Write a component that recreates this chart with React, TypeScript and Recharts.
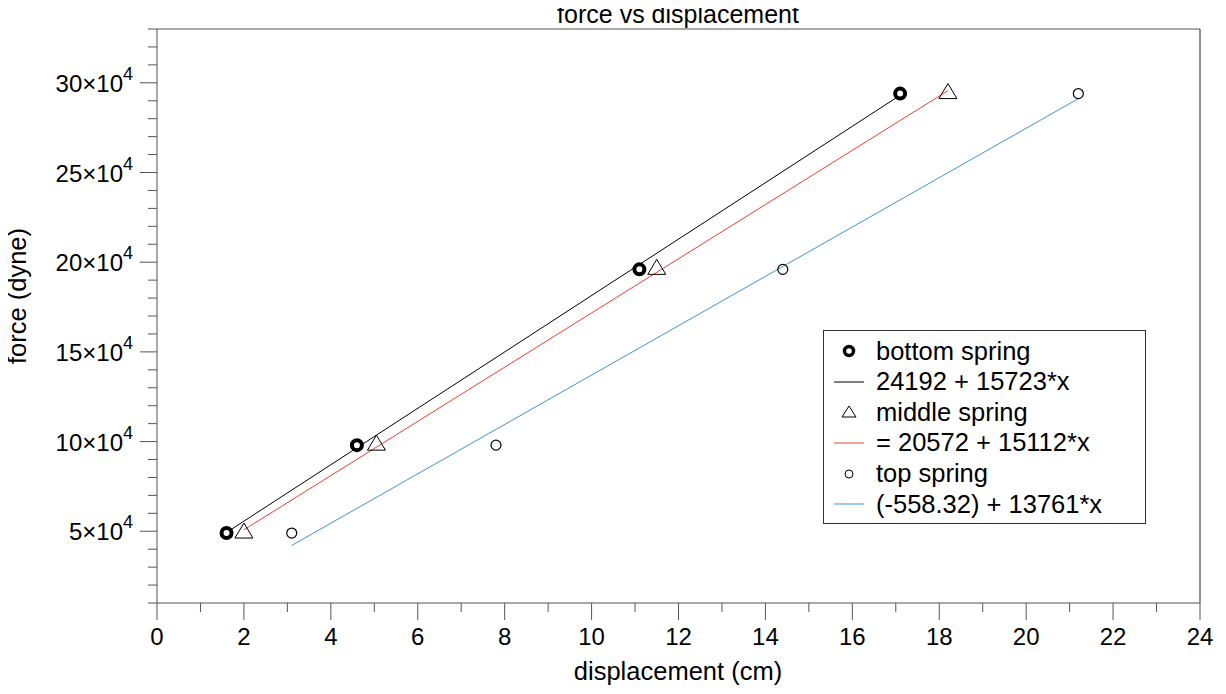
import React from 'react';
import { ScatterChart, Scatter, XAxis, YAxis, ReferenceLine, Legend, Customized } from 'recharts';

// ---- data ----
const forces = [49000, 98000, 196000, 294000];
const bottomX = [1.6, 4.6, 11.1, 17.1];
const middleX = [2.0, 5.05, 11.5, 18.2];
const topX = [3.1, 7.8, 14.4, 21.2];

const bottomFitX = [1.6, 17.1];
const bottomFitY = [49350, 293050];
const middleFitX = [2.0, 18.2];
const middleFitY = [50800, 295610];
const topFitX = [3.1, 21.2];
const topFitY = [42100, 291170];

const xTicks = [0, 1, 2, 3, 4, 5, 6, 7, 8, 9, 10, 11, 12, 13, 14, 15, 16, 17, 18, 19, 20, 21, 22, 23, 24];
const yTicks = [10000, 20000, 30000, 40000, 50000, 60000, 70000, 80000, 90000, 100000, 110000, 120000, 130000, 140000, 150000, 160000, 170000, 180000, 190000, 200000, 210000, 220000, 230000, 240000, 250000, 260000, 270000, 280000, 290000, 300000, 310000, 320000, 330000];

const legendLabels = ['bottom spring', '24192 + 15723*x', 'middle spring', '= 20572 + 15112*x', 'top spring', '(-558.32) + 13761*x'];

const toPts = (xs: number[], ys: number[]) => xs.map((x, i) => ({ x, y: ys[i] }));
const bottomData = toPts(bottomX, forces);
const middleData = toPts(middleX, forces);
const topData = toPts(topX, forces);
const bottomFit = toPts(bottomFitX, bottomFitY);
const middleFit = toPts(middleFitX, middleFitY);
const topFit = toPts(topFitX, topFitY);

const FONT = '"Liberation Sans", Arial, Helvetica, sans-serif';
const AX = '#555';
const RED = '#ec3f2e';
const BLUE = '#3f93d3';

const XTick = (props: any) => {
  const { x, y, payload } = props;
  const v = payload.value;
  const major = v % 2 === 0;
  return (
    <g>
      <line x1={x} x2={x} y1={y} y2={y + (major ? 17 : 9)} stroke={AX} strokeWidth={1} />
      {major && (
        <text x={x} y={y + 42} textAnchor="middle" fontSize={24} fill="#000" fontFamily={FONT}>
          {v}
        </text>
      )}
    </g>
  );
};

const YTick = (props: any) => {
  const { x, y, payload } = props;
  const v = payload.value;
  const major = v % 50000 === 0;
  return (
    <g>
      <line x1={x - (major ? 17 : 9)} x2={x} y1={y} y2={y} stroke={AX} strokeWidth={1} />
      {major && (
        <text x={x - 24} y={y + 9} textAnchor="end" fontSize={24} fill="#000" fontFamily={FONT}>
          {`${v / 10000}×10`}
          <tspan fontSize={18} dy={-12}>4</tspan>
        </text>
      )}
    </g>
  );
};

const ThickCircle = (props: any) => {
  const { cx, cy } = props;
  return <circle cx={cx} cy={cy} r={5} fill="#fff" stroke="#000" strokeWidth={4} />;
};
const Triangle = (props: any) => {
  const { cx, cy } = props;
  return (
    <path
      d={`M${cx},${cy - 10} L${cx + 9},${cy + 5} L${cx - 9},${cy + 5} Z`}
      fill="none"
      stroke="#000"
      strokeWidth={1}
    />
  );
};
const ThinCircle = (props: any) => {
  const { cx, cy } = props;
  return <circle cx={cx} cy={cy} r={5} fill="none" stroke="#000" strokeWidth={1.2} />;
};
const NoShape = () => <g />;

const LegendBox = () => {
  const icon = (i: number) => {
    switch (i) {
      case 0:
        return <circle cx={25} cy={15} r={4.5} fill="#fff" stroke="#000" strokeWidth={3.5} />;
      case 1:
        return <line x1={10} x2={40} y1={15} y2={15} stroke="#000" strokeWidth={1} />;
      case 2:
        return <path d="M25,9 L32,20 L18,20 Z" fill="none" stroke="#000" strokeWidth={1} />;
      case 3:
        return <line x1={10} x2={40} y1={15} y2={15} stroke={RED} strokeWidth={1} />;
      case 4:
        return <circle cx={25} cy={15} r={4} fill="none" stroke="#000" strokeWidth={1} />;
      default:
        return <line x1={10} x2={40} y1={15} y2={15} stroke={BLUE} strokeWidth={1} />;
    }
  };
  return (
    <div
      style={{
        width: 323,
        height: 194,
        boxSizing: 'border-box',
        border: '1px solid #333',
        background: '#fff',
        paddingTop: 5,
        fontFamily: FONT,
        fontSize: 25.5,
        color: '#000',
      }}
    >
      {legendLabels.map((t, i) => (
        <div key={i} style={{ display: 'flex', alignItems: 'center', height: 30.6 }}>
          <svg width={52} height={30} style={{ flex: 'none' }}>
            {icon(i)}
          </svg>
          <span style={{ lineHeight: 1, whiteSpace: 'nowrap' }}>{t}</span>
        </div>
      ))}
    </div>
  );
};

const Texts = () => (
  <g fontFamily={FONT} fill="#000">
    <text x={678} y={23} textAnchor="middle" fontSize={25}>force vs displacement</text>
    <text x={678} y={680} textAnchor="middle" fontSize={25.5}>displacement (cm)</text>
    <text x={26} y={296} textAnchor="middle" fontSize={25.5} transform="rotate(-90, 26, 296)">force (dyne)</text>
  </g>
);

export default function App() {
  return (
    <div style={{ marginTop: -8, marginLeft: -8, width: 1226, height: 686 }}>
      <ScatterChart width={1226} height={686} margin={{ top: 29, right: 26, bottom: 0, left: 0 }}>
        <XAxis
          type="number"
          dataKey="x"
          domain={[0, 24]}
          ticks={xTicks}
          interval={0}
          tick={<XTick />}
          tickLine={false}
          tickSize={0}
          tickMargin={0}
          height={83}
          axisLine={{ stroke: AX, strokeWidth: 1 }}
          allowDataOverflow
        />
        <YAxis
          type="number"
          dataKey="y"
          domain={[10000, 330000]}
          ticks={yTicks}
          interval={0}
          tick={<YTick />}
          tickLine={false}
          tickSize={0}
          tickMargin={0}
          width={157}
          axisLine={{ stroke: AX, strokeWidth: 1 }}
          allowDataOverflow
        />
        <ReferenceLine y={330000} stroke={AX} strokeWidth={1} />
        <ReferenceLine x={24} stroke="#222" strokeWidth={1} />
        <Scatter data={bottomFit} line={{ stroke: '#000', strokeWidth: 1 }} lineType="joint" shape={<NoShape />} fill="#000" stroke="#000" isAnimationActive={false} />
        <Scatter data={middleFit} line={{ stroke: RED, strokeWidth: 1 }} lineType="joint" shape={<NoShape />} fill={RED} stroke={RED} isAnimationActive={false} />
        <Scatter data={topFit} line={{ stroke: BLUE, strokeWidth: 1 }} lineType="joint" shape={<NoShape />} fill={BLUE} stroke={BLUE} isAnimationActive={false} />
        <Scatter data={bottomData} shape={<ThickCircle />} isAnimationActive={false} />
        <Scatter data={middleData} shape={<Triangle />} isAnimationActive={false} />
        <Scatter data={topData} shape={<ThinCircle />} isAnimationActive={false} />
        <Legend
          layout="horizontal"
          verticalAlign="middle"
          align="center"
          content={<LegendBox />}
          wrapperStyle={{ left: 823, top: 330, width: 323, height: 194 }}
        />
        <Customized component={<Texts />} />
      </ScatterChart>
    </div>
  );
}
